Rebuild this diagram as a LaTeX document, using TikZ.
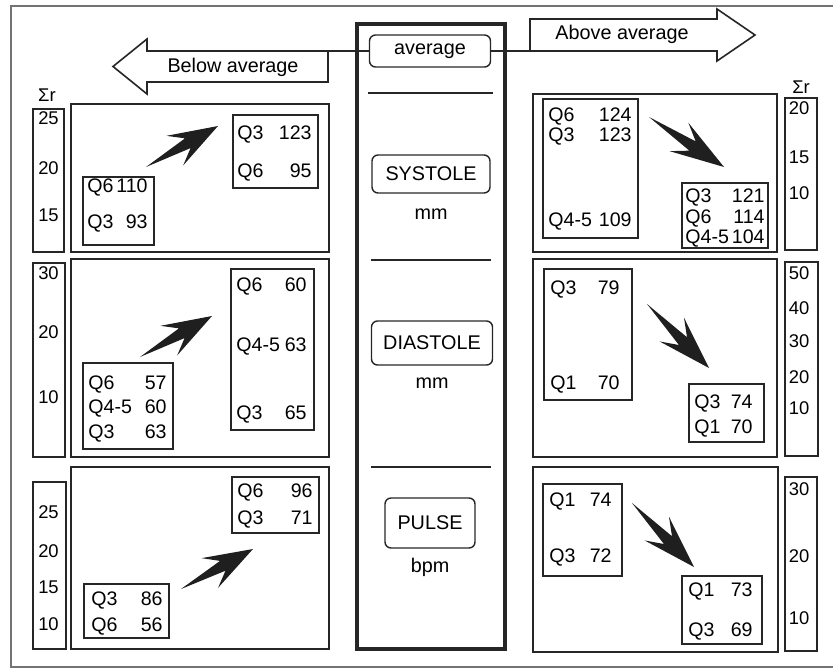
\documentclass[tikz,border=0pt]{standalone}
\usepackage{fontspec}
\setmainfont{Liberation Sans}
\usetikzlibrary{calc}

% fat dart from tail to tip
\newcommand{\fatarrow}[2]{%
  \fill[darkink] (#1) -- ($(#1)!0.58!(#2)!2.8pt!90:(#2)$) -- ($(#1)!0.40!(#2)!8.5pt!90:(#2)$)
    -- (#2) -- ($(#1)!0.40!(#2)!8.5pt!-90:(#2)$) -- ($(#1)!0.58!(#2)!2.8pt!-90:(#2)$) -- cycle;}

\begin{document}
\begin{tikzpicture}[
  x=0.5pt, y=-0.5pt,
  darkink/.style={fill=black!88},
  frame/.style={draw=black!55, line width=0.6pt},
  panel/.style={draw=black!85, line width=0.9pt},
  scalebox/.style={draw=black!85, line width=1.1pt},
  qbox/.style={draw=black!85, line width=0.7pt},
  centre/.style={draw=black!85, line width=1.6pt},
  bigarrow/.style={draw=black!85, line width=0.8pt, fill=white},
  tagbox/.style={draw=black!85, line width=0.7pt, rounded corners=3pt, font=\fontsize{9.9}{12}\selectfont},
  qtext/.style={inner sep=0pt, text height=6.9pt, text depth=0pt, font=\fontsize{9.8}{12}\selectfont},
  scaletext/.style={inner sep=0pt, text height=6.5pt, text depth=0pt, font=\fontsize{9.2}{11}\selectfont},
  plain/.style={inner sep=1pt, font=\fontsize{9.9}{12}\selectfont}
]
\useasboundingbox (0,0) rectangle (833,669);

% outer frame, cut at the right
\draw[frame] (833,6) -- (11,6) -- (11,667) -- (833,667);

% middle column
\draw[centre] (357,24) rectangle (505,649);
\node[tagbox, minimum width=60.5pt, minimum height=16pt] (average) at (430,51) {average};
\draw[draw=black!85, line width=0.7pt] (368,93) -- (493,93);
\draw[draw=black!85, line width=0.7pt] (371,260) -- (491,260);
\draw[draw=black!85, line width=0.7pt] (371,467) -- (491,467);

\node[tagbox, minimum width=59pt, minimum height=19pt] (systole) at (431,174) {SYSTOLE};
\node[plain] (systole-unit) at (431,214) {mm};
\node[tagbox, minimum width=60.5pt, minimum height=22pt] (diastole) at (432,343) {DIASTOLE};
\node[plain] (diastole-unit) at (432,383) {mm};
\node[tagbox, minimum width=45pt, minimum height=25pt] (pulse) at (430,523) {PULSE};
\node[plain] (pulse-unit) at (430,567) {bpm};

% below / above arrows
\coordinate (below-root) at (328,51);
\coordinate (above-root) at (530,51);
\draw[bigarrow] (below-root) -- (147,51) -- (147,39) -- (113,66.5) -- (147,94) -- (147,82) -- (328,82) -- cycle;
\draw[bigarrow] (above-root) -- (530,19) -- (717,19) -- (717,9) -- (755,35) -- (717,61) -- (717,51) -- cycle;
\node[plain] (below-text) at (233,67) {Below average};
\node[plain] (above-text) at (622,34) {Above average};
\draw[draw=black!85, line width=0.7pt] (below-root) -- (average.west);
\draw[draw=black!85, line width=0.7pt] (average.east) -- (above-root);

% sum of ranks
\node[scaletext] (sr-left) at (47,95) {Σr};
\node[scaletext] (sr-right) at (801,87) {Σr};

% ---- systole, below average
\draw[scalebox] (33,109) rectangle (64,252);
\foreach \v/\y in {25/118, 20/168, 15/215}
  \node[scaletext] (sl-\v) at (48.5,\y) {\v};
\draw[panel] (71,104) rectangle (329,252);
\draw[qbox] (83,177) rectangle (154,245);
\foreach \q/\v/\y in {Q6/110/186, Q3/93/222}{
  \node[qtext, anchor=west] (sa-\q) at (87,\y) {\q};
  \node[qtext, anchor=east] (sa-\q-v) at (148,\y) {\v};
}
\draw[qbox] (233,115) rectangle (318,188);
\foreach \q/\v/\y in {Q3/123/133, Q6/95/171}{
  \node[qtext, anchor=west] (sb-\q) at (237,\y) {\q};
  \node[qtext, anchor=east] (sb-\q-v) at (312,\y) {\v};
}
\coordinate (sl-tail) at (146,167);
\coordinate (sl-tip) at (218,126);
\fatarrow{sl-tail}{sl-tip}

% ---- systole, above average
\draw[scalebox] (785,98) rectangle (817,250);
\foreach \v/\y in {20/108, 15/157, 10/193}
  \node[scaletext] (sr-\v) at (799,\y) {\v};
\draw[panel] (533,94) rectangle (777,252);
\draw[qbox] (543,99) rectangle (638,238);
\foreach \q/\v/\y in {Q6/124/115, Q3/123/135, Q4-5/109/220}{
  \node[qtext, anchor=west] (sc-\q) at (548,\y) {\q};
  \node[qtext, anchor=east] (sc-\q-v) at (632,\y) {\v};
}
\draw[qbox] (682,183) rectangle (768,248);
\foreach \q/\v/\y in {Q3/121/196, Q6/114/217, Q4-5/104/237}{
  \node[qtext, anchor=west] (sd-\q) at (685,\y) {\q};
  \node[qtext, anchor=east] (sd-\q-v) at (765,\y) {\v};
}
\coordinate (sr-tail) at (649,117);
\coordinate (sr-tip) at (724,167);
\fatarrow{sr-tail}{sr-tip}

% ---- diastole, below average
\draw[scalebox] (33,263) rectangle (65,457);
\foreach \v/\y in {30/273, 20/332, 10/397}
  \node[scaletext] (dl-\v) at (48.5,\y) {\v};
\draw[panel] (71,259) rectangle (329,457);
\draw[qbox] (83,363) rectangle (173,449);
\foreach \q/\v/\y in {Q6/57/383, Q4-5/60/407, Q3/63/432}{
  \node[qtext, anchor=west] (da-\q) at (88,\y) {\q};
  \node[qtext, anchor=east] (da-\q-v) at (167,\y) {\v};
}
\draw[qbox] (231,269) rectangle (314,430);
\foreach \q/\v/\y in {Q6/60/285, Q4-5/63/345, Q3/65/413}{
  \node[qtext, anchor=west] (db-\q) at (236,\y) {\q};
  \node[qtext, anchor=east] (db-\q-v) at (307,\y) {\v};
}
\coordinate (dl-tail) at (140,357);
\coordinate (dl-tip) at (212,316);
\fatarrow{dl-tail}{dl-tip}

% ---- diastole, above average
\draw[scalebox] (785,262) rectangle (818,456);
\foreach \v/\y in {50/273, 40/308, 30/341, 20/377, 10/408}
  \node[scaletext] (dr-\v) at (799,\y) {\v};
\draw[panel] (533,259) rectangle (777,457);
\draw[qbox] (544,269) rectangle (632,400);
\foreach \q/\v/\y in {Q3/79/288, Q1/70/383}{
  \node[qtext, anchor=west] (dc-\q) at (550,\y) {\q};
  \node[qtext, anchor=east] (dc-\q-v) at (620,\y) {\v};
}
\draw[qbox] (689,384) rectangle (764,442);
\foreach \q/\v/\y in {Q3/74/402, Q1/70/427}{
  \node[qtext, anchor=west] (dd-\q) at (694,\y) {\q};
  \node[qtext, anchor=east] (dd-\q-v) at (753,\y) {\v};
}
\coordinate (dr-tail) at (647,304);
\coordinate (dr-tip) at (709,368);
\fatarrow{dr-tail}{dr-tip}

% ---- pulse, below average
\draw[scalebox] (33,482) rectangle (66,649);
\foreach \v/\y in {25/512, 20/551, 15/587, 10/624}
  \node[scaletext] (pl-\v) at (48.5,\y) {\v};
\draw[panel] (71,467) rectangle (329,649);
\draw[qbox] (84,584) rectangle (169,638);
\foreach \q/\v/\y in {Q3/86/599, Q6/56/625}{
  \node[qtext, anchor=west] (pa-\q) at (91,\y) {\q};
  \node[qtext, anchor=east] (pa-\q-v) at (163,\y) {\v};
}
\draw[qbox] (232,477) rectangle (319,533);
\foreach \q/\v/\y in {Q6/96/491, Q3/71/518}{
  \node[qtext, anchor=west] (pb-\q) at (237,\y) {\q};
  \node[qtext, anchor=east] (pb-\q-v) at (313,\y) {\v};
}
\coordinate (pl-tail) at (181,589);
\coordinate (pl-tip) at (253,549);
\fatarrow{pl-tail}{pl-tip}

% ---- pulse, above average
\draw[scalebox] (785,477) rectangle (817,651);
\foreach \v/\y in {30/489, 20/556, 10/618}
  \node[scaletext] (pr-\v) at (799,\y) {\v};
\draw[panel] (533,467) rectangle (778,652);
\draw[qbox] (543,484) rectangle (622,576);
\foreach \q/\v/\y in {Q1/74/500, Q3/72/556}{
  \node[qtext, anchor=west] (pc-\q) at (549,\y) {\q};
  \node[qtext, anchor=east] (pc-\q-v) at (612,\y) {\v};
}
\draw[qbox] (682,576) rectangle (762,644);
\foreach \q/\v/\y in {Q1/73/590, Q3/69/630}{
  \node[qtext, anchor=west] (pd-\q) at (688,\y) {\q};
  \node[qtext, anchor=east] (pd-\q-v) at (753,\y) {\v};
}
\coordinate (pr-tail) at (632,503);
\coordinate (pr-tip) at (694,567);
\fatarrow{pr-tail}{pr-tip}
\end{tikzpicture}
\end{document}
